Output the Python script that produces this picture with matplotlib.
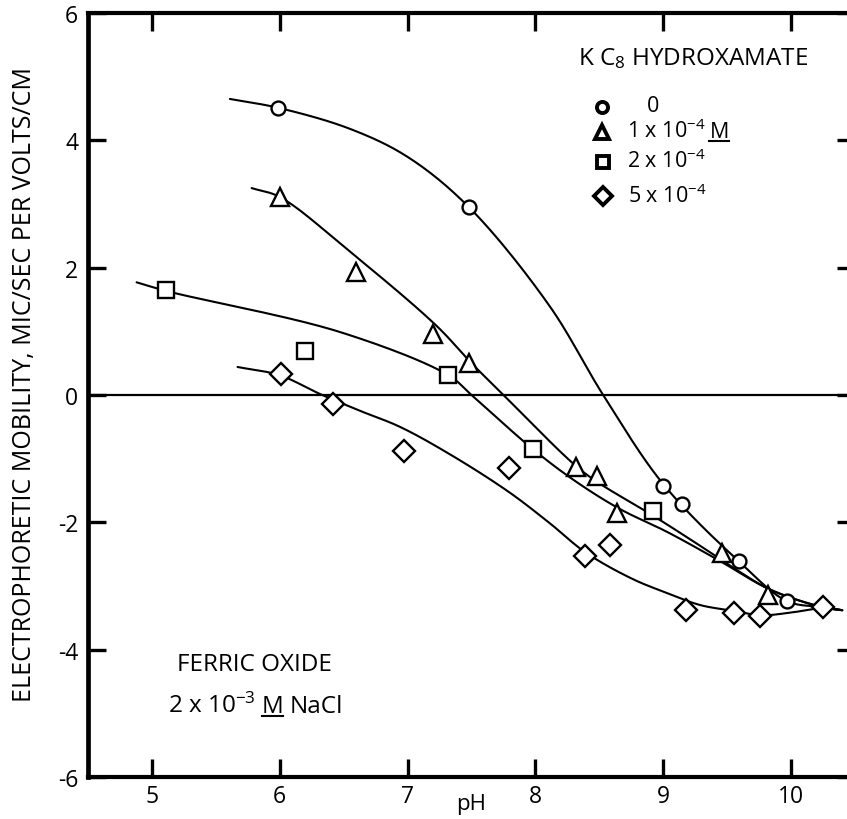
import numpy as np
import matplotlib
matplotlib.use("Agg")
import matplotlib.pyplot as plt
from matplotlib.lines import Line2D

plt.rcParams["font.family"] = ["Open Sans", "DejaVu Sans"]
plt.rcParams["mathtext.fontset"] = "custom"
plt.rcParams["mathtext.rm"] = "Open Sans"
plt.rcParams["mathtext.default"] = "regular"
plt.rcParams["axes.unicode_minus"] = False

# ---- measured mobilities (pH, mobility) ----
ph_0 = [5.99, 7.48, 9.00, 9.15, 9.59, 9.97]
mob_0 = [4.51, 2.95, -1.43, -1.71, -2.61, -3.24]

ph_1 = [6.00, 6.60, 7.20, 7.48, 8.32, 8.48, 8.64, 9.46, 9.82]
mob_1 = [3.11, 1.93, 0.96, 0.50, -1.13, -1.27, -1.85, -2.48, -3.14]

ph_2 = [5.11, 6.20, 7.32, 7.98, 8.92]
mob_2 = [1.65, 0.69, 0.31, -0.85, -1.82]

ph_5 = [6.01, 6.42, 6.97, 7.79, 8.39, 8.58, 9.18, 9.55, 9.76, 10.25]
mob_5 = [0.33, -0.14, -0.88, -1.15, -2.53, -2.36, -3.38, -3.42, -3.47, -3.33]

# ---- hand-drawn trend curves (knots along each curve) ----
fit_ph_0 = [5.61, 5.99, 6.55, 7.00, 7.48, 8.11, 8.53, 9.00, 9.59, 9.97, 10.24, 10.40]
fit_mob_0 = [4.65, 4.51, 4.18, 3.74, 2.95, 1.40, 0.00, -1.40, -2.61, -3.24, -3.33, -3.38]

fit_ph_1 = [5.78, 6.00, 6.55, 7.23, 7.49, 7.75, 8.32, 8.51, 8.90, 9.29, 9.60, 9.84, 10.24, 10.40]
fit_mob_1 = [3.25, 3.11, 2.25, 1.08, 0.52, 0.00, -1.12, -1.40, -1.87, -2.37, -2.78, -3.06, -3.33, -3.38]

fit_ph_2 = [4.88, 5.12, 6.47, 7.32, 7.50, 7.98, 8.31, 8.66, 9.03, 9.42, 9.84, 10.24, 10.40]
fit_mob_2 = [1.77, 1.63, 0.99, 0.31, 0.00, -0.85, -1.35, -1.79, -2.15, -2.58, -3.06, -3.33, -3.38]

fit_ph_5 = [5.67, 6.00, 6.31, 6.63, 6.94, 7.33, 7.79, 8.11, 8.39, 8.76, 9.03, 9.29,
            9.55, 9.76, 9.99, 10.24, 10.40]
fit_mob_5 = [0.44, 0.31, 0.02, -0.25, -0.50, -0.93, -1.52, -2.01, -2.47, -2.89, -3.11, -3.30,
             -3.39, -3.46, -3.42, -3.35, -3.38]

x_ticks = [5, 6, 7, 8, 9, 10]
y_ticks = [-6, -4, -2, 0, 2, 4, 6]


def catmull_rom(xs, ys, n=24, yscale=0.5):
    """Centripetal Catmull-Rom curve through the knots (x, y)."""
    P = np.column_stack([np.asarray(xs, float), np.asarray(ys, float) * yscale])
    P = np.vstack([2 * P[0] - P[1], P, 2 * P[-1] - P[-2]])
    pieces = []
    for i in range(1, len(P) - 2):
        p0, p1, p2, p3 = P[i - 1], P[i], P[i + 1], P[i + 2]
        t0 = 0.0
        t1 = t0 + np.linalg.norm(p1 - p0) ** 0.5
        t2 = t1 + np.linalg.norm(p2 - p1) ** 0.5
        t3 = t2 + np.linalg.norm(p3 - p2) ** 0.5
        t = np.linspace(t1, t2, n, endpoint=False)[:, None]
        a1 = (t1 - t) / (t1 - t0) * p0 + (t - t0) / (t1 - t0) * p1
        a2 = (t2 - t) / (t2 - t1) * p1 + (t - t1) / (t2 - t1) * p2
        a3 = (t3 - t) / (t3 - t2) * p2 + (t - t2) / (t3 - t2) * p3
        b1 = (t2 - t) / (t2 - t0) * a1 + (t - t0) / (t2 - t0) * a2
        b2 = (t3 - t) / (t3 - t1) * a2 + (t - t1) / (t3 - t1) * a3
        pieces.append((t2 - t) / (t2 - t1) * b1 + (t - t1) / (t2 - t1) * b2)
    pieces.append(P[-2][None, :])
    out = np.vstack(pieces)
    return out[:, 0], out[:, 1] / yscale


W, H = 847, 820
fig = plt.figure(figsize=(W / 100, H / 100), dpi=100)
ax = fig.add_axes([88 / W, 1 - 778 / H, 767 / W, 764 / H])
renderer = fig.canvas.get_renderer()

ax.set_xlim(4.5, 10.5)
ax.set_ylim(-6, 6)
ax.set_xticks(x_ticks)
ax.set_yticks(y_ticks)
ax.set_xticklabels([str(v) for v in x_ticks])
ax.set_yticklabels([str(v) for v in y_ticks])

for side in ["left", "bottom", "top", "right"]:
    ax.spines[side].set_linewidth(3.0)
ax.spines["left"].set_linewidth(3.4)
ax.tick_params(axis="both", which="major", direction="in", length=13, width=2.4,
               top=True, right=True, labelsize=16.5, colors="black")
ax.tick_params(axis="x", pad=5)
ax.tick_params(axis="y", pad=7)

ax.axhline(0, color="black", lw=1.6, zorder=1)

curve_kw = dict(color="black", lw=1.5, zorder=2, solid_capstyle="round")
for fx, fy in [(fit_ph_0, fit_mob_0), (fit_ph_1, fit_mob_1),
               (fit_ph_2, fit_mob_2), (fit_ph_5, fit_mob_5)]:
    cx, cy = catmull_rom(fx, fy)
    ax.plot(cx, cy, **curve_kw)

mk = dict(ls="none", mfc="white", mec="black", mew=1.7, zorder=3, clip_on=False)
ax.plot(ph_0, mob_0, marker="o", ms=10, **mk)
ax.plot(ph_1, mob_1, marker="^", ms=13, **mk)
ax.plot(ph_2, mob_2, marker="s", ms=11, **mk)
ax.plot(ph_5, mob_5, marker="D", ms=11, **mk)

ax.set_xlabel("pH", fontsize=16)
ax.xaxis.set_label_coords(0.5, ((H - 805) / H - (1 - 778 / H)) / (764 / H))
ax.xaxis.label.set_va("center")

ax.set_ylabel("ELECTROPHORETIC MOBILITY, MIC/SEC PER VOLTS/CM", fontsize=18)
ax.yaxis.set_label_coords((25 - 88) / 767, ((H - 385) / H - (1 - 778 / H)) / (764 / H))
ax.yaxis.label.set_va("center")


def fpos(px, py):
    return px / W, 1 - py / H


def text_run(px, baseline_py, pieces, fs, gap=6):
    """Left-aligned run of text pieces on one baseline; flagged pieces are underlined."""
    x = px
    for s, underline in pieces:
        t = fig.text(*fpos(x, baseline_py), s, fontsize=fs, ha="left", va="baseline")
        bb = t.get_window_extent(renderer)
        if underline:
            uy = 1 - (baseline_py + 3.5) / H
            fig.add_artist(Line2D([bb.x0 / W, bb.x1 / W], [uy, uy],
                                  transform=fig.transFigure, color="black", lw=1.5))
        x = bb.x1 + gap


# key block
text_run(578, 65, [(r"K C$_8$ HYDROXAMATE", False)], 17.5)
key_mk = dict(ls="none", mfc="white", mec="black", mew=2.8, transform=fig.transFigure,
              clip_on=False, zorder=4)
ax.plot(*[[v] for v in fpos(602, 108)], marker="o", ms=8, **key_mk)
ax.plot(*[[v] for v in fpos(602, 133)], marker="^", ms=10, **key_mk)
ax.plot(*[[v] for v in fpos(603, 163)], marker="s", ms=8, **key_mk)
ax.plot(*[[v] for v in fpos(603, 197)], marker="D", ms=9, **key_mk)

key_fs = 15.5
text_run(647, 112, [("0", False)], key_fs)
text_run(627, 138, [(r"1 x 10$^{-4}$", False), ("M", True)], key_fs, gap=4)
text_run(627, 168, [(r"2 x 10$^{-4}$", False)], key_fs)
text_run(628, 203, [(r"5 x 10$^{-4}$", False)], key_fs)

# sample conditions
text_run(177, 671, [("FERRIC OXIDE", False)], 17.5)
text_run(168, 713, [(r"2 x 10$^{-3}$", False), ("M", True), ("NaCl", False)], 17.5, gap=6)

fig.savefig("out.png", dpi=100, facecolor="white")
